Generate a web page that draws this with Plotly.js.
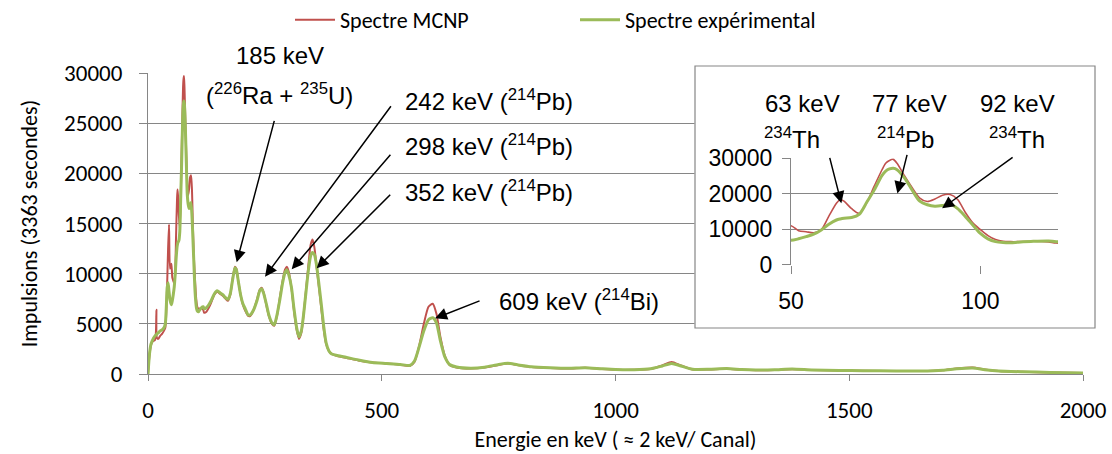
<!DOCTYPE html>
<html><head><meta charset="utf-8">
<script src="https://cdn.plot.ly/plotly-3.0.1.min.js"></script>
<style>html,body{margin:0;padding:0;background:#fff}#chart{width:1112px;height:454px}</style>
</head><body><div id="chart"></div>
<script>
// Energy (keV) and counts
const energyKeV = [0,3,6,9,12,15,17,18,19,22,26,30,34,37,39,41,43,45,47,
  50,52,54,56,58,60,62,63,64,66,68,70,72,74,75,76,77,78,80,82,84,86,88,90,92,94,96,98,100,102,104,106,108,110,114,118,120,
  125,130,135,142,148,154,160,166,171,176,181,186,189,193,198,203,208,214,219,226,233,239,243,247,253,259,265,270,276,282,288,293,297,301,307,312,318,323,328,333,338,343,348,352,356,361,366,371,376,381,387,393,
  405,425,450,480,510,540,560,570,580,590,600,609,617,625,635,645,660,690,720,750,770,790,820,860,900,935,970,1000,1040,1075,1100,1120,1140,1165,1200,1238,1270,1300,1340,1378,1420,1478,1530,1600,1653,1700,1730,1764,1790,1820,1870,1930,2000];

const spectreMCNP = [0,1800,2800,3200,3300,3400,4200,6400,3600,3500,3800,4000,4300,4600,6000,9000,12500,14900,10500,
  11000,9600,9300,9000,9900,13700,17300,18400,17900,15800,14500,17500,22200,26700,28600,29400,29700,28600,25000,21700,18800,17800,18500,19600,19800,18400,14800,11800,9900,8200,7100,6600,6500,6500,6600,6400,6100,
  6200,6600,7100,7900,8200,8000,7800,7500,7300,7900,9500,10700,10500,9300,7900,6900,6300,5800,5800,6400,7400,8400,8600,8200,6900,5700,5000,4800,5800,7600,9300,10400,10700,10200,8500,6400,4400,3500,4100,6000,8400,10800,12900,13400,12600,10500,8500,6400,4400,3000,2300,2000,
  1800,1600,1350,1150,1050,920,800,1200,2800,5000,6700,7000,6000,3800,1800,900,650,550,650,900,1050,900,700,600,550,620,500,420,420,500,850,1200,850,450,450,520,420,370,400,480,400,350,320,300,300,380,550,650,450,300,220,150,100];

const spectreExperimental = [0,1900,2900,3300,3600,3800,3900,3900,4000,4100,4300,4400,4600,5000,6500,8600,9100,8200,7400,
  6900,7300,7900,8600,9800,11400,12600,12900,13100,13300,14200,17600,21100,25100,26400,27000,27200,26800,24400,21000,17900,16900,16500,16700,17100,15800,13600,11200,8800,7300,6500,6250,6200,6350,6600,6700,6500,
  6600,6900,7300,8000,8300,8100,7900,7600,7450,8000,9400,10600,10400,9300,7900,7000,6500,5900,5900,6400,7300,8300,8500,8100,7000,5800,5100,4900,5900,7400,9100,10100,10400,9900,8600,6600,4600,3700,4300,6000,8200,10300,11800,12100,11900,10700,8800,6800,4700,3100,2300,2000,
  1850,1650,1400,1150,1050,950,850,1300,2700,4300,5400,5600,5100,3400,1700,950,700,580,680,950,1060,920,720,620,570,620,520,450,430,520,800,1050,800,470,470,540,440,390,420,500,410,360,330,300,300,380,520,600,430,300,220,160,100];

const seriesNames = ['Spectre MCNP', 'Spectre expérimental'];
const seriesColors = ['#C0504D', '#9BBB59'];
const xTickVals = [0, 500, 1000, 1500, 2000];
const yTickVals = [0, 5000, 10000, 15000, 20000, 25000, 30000];
const insetXTicks = [50, 100];
const insetYTicks = [0, 10000, 20000, 30000];

const calibri = 'Carlito, Lato, sans-serif';
const arial = '"Liberation Sans", Arial, sans-serif';
const grid = '#868686';

// pixel helpers for layout placement (plot area 148..1083 x, 73..374 y)
const L = 148, R = 1083, T = 73, B = 374;
const px = v => (v - L) / (R - L);
const py = v => (B - v) / (B - T);

const traces = [
  {x: energyKeV, y: spectreMCNP, name: seriesNames[0], type: 'scatter', mode: 'lines',
   line: {color: seriesColors[0], width: 2, shape: 'spline', smoothing: 0.6}, xaxis: 'x', yaxis: 'y'},
  {x: energyKeV, y: spectreExperimental, name: seriesNames[1], type: 'scatter', mode: 'lines',
   line: {color: seriesColors[1], width: 3, shape: 'spline', smoothing: 0.6}, xaxis: 'x', yaxis: 'y'},
  {x: energyKeV, y: spectreMCNP, name: seriesNames[0], type: 'scatter', mode: 'lines', showlegend: false,
   line: {color: seriesColors[0], width: 1.6, shape: 'spline', smoothing: 0.8}, xaxis: 'x2', yaxis: 'y2'},
  {x: energyKeV, y: spectreExperimental, name: seriesNames[1], type: 'scatter', mode: 'lines', showlegend: false,
   line: {color: seriesColors[1], width: 3, shape: 'spline', smoothing: 0.8}, xaxis: 'x2', yaxis: 'y2'}
];

const annFont = {family: arial, size: 24, color: '#000'};
function arrow(x, y, ax, ay, xr, yr) {
  return {x: x, y: y, xref: xr, yref: yr, ax: ax, ay: ay, axref: 'pixel', ayref: 'pixel',
    text: '', showarrow: true, arrowhead: 2, arrowsize: 1.6, arrowwidth: 1.5, arrowcolor: '#000', standoff: 0};
}
function label(text, xp, yp, anchor) {
  return {x: px(xp), y: py(yp), xref: 'paper', yref: 'paper', text: text, showarrow: false,
    xanchor: anchor || 'center', yanchor: 'middle', font: annFont};
}

const annotations = [
  label('185 keV', 280, 56),
  label('(<sup>226</sup>Ra + <sup>235</sup>U)', 279, 94),
  label('242 keV (<sup>214</sup>Pb)', 403, 100, 'left'),
  label('298 keV (<sup>214</sup>Pb)', 403, 145, 'left'),
  label('352 keV (<sup>214</sup>Pb)', 403, 191, 'left'),
  label('609 keV (<sup>214</sup>Bi)', 497, 300, 'left'),
  label('63 keV', 802, 103),
  label('<sup>234</sup>Th', 792, 138),
  label('77 keV', 909, 103),
  label('<sup>214</sup>Pb', 905, 138),
  label('92 keV', 1017, 103),
  label('<sup>234</sup>Th', 1017, 138),
  arrow(189.7, 11130, 38, -143, 'x', 'y'),
  arrow(250.3, 9700, 127, -172, 'x', 'y'),
  arrow(307.4, 10440, 100, -116, 'x', 'y'),
  arrow(360.9, 10540, 75, -75, 'x', 'y'),
  arrow(614, 5550, 46, -18, 'x', 'y'),
  arrow(63.3, 17300, -12, -47, 'x2', 'y2'),
  arrow(78.1, 20100, 10, -40, 'x2', 'y2'),
  arrow(89.9, 15900, 72, -52, 'x2', 'y2')
];

const layout = {
  width: 1112, height: 454,
  margin: {l: L, r: 1112 - R, t: T, b: 454 - B, pad: 0, autoexpand: false},
  paper_bgcolor: '#fff', plot_bgcolor: '#fff',
  font: {family: calibri, size: 23, color: '#000'},
  showlegend: true,
  legend: {orientation: 'h', x: px(290), y: py(-1), xanchor: 'left', yanchor: 'top',
    font: {family: calibri, size: 22, color: '#000'}, entrywidth: 230, entrywidthmode: 'pixels',
    bgcolor: 'rgba(0,0,0,0)', borderwidth: 0, itemwidth: 40},
  xaxis: {domain: [0, 1], range: [0, 2000], tickvals: xTickVals, ticks: 'outside', ticklen: 6,
    tickcolor: grid, tickwidth: 1, showline: true, linecolor: grid, linewidth: 1, showgrid: false,
    zeroline: false, tickfont: {family: calibri, size: 23}, ticklabelstandoff: 9,
    title: {text: 'Energie en keV ( ≈ 2 keV/ Canal)', font: {family: calibri, size: 22}, standoff: 9}},
  yaxis: {domain: [0, 1], range: [0, 30000], tickvals: yTickVals, tickformat: 'd', ticks: 'outside',
    ticklen: 8, tickcolor: grid, tickwidth: 1, showline: true, linecolor: grid, linewidth: 1,
    showgrid: true, gridcolor: grid, gridwidth: 1, zeroline: false,
    tickfont: {family: calibri, size: 23}, ticklabelstandoff: 12,
    title: {text: 'Impulsions (3363 secondes)', font: {family: calibri, size: 22}, standoff: 20}},
  xaxis2: {domain: [px(791), px(1058)], anchor: 'y2', range: [50, 120.5], tickvals: insetXTicks,
    ticks: 'outside', ticklen: 8, tickcolor: grid, showline: false, showgrid: false, zeroline: false,
    tickfont: {family: arial, size: 23}, ticklabelstandoff: 8},
  yaxis2: {domain: [py(264.7), py(158.3)], anchor: 'x2', range: [0, 30000], tickvals: insetYTicks,
    tickformat: 'd', ticks: 'outside', ticklen: 8, tickcolor: grid, showline: true, linecolor: grid,
    showgrid: true, gridcolor: grid, gridwidth: 1, zeroline: false,
    tickfont: {family: arial, size: 23}, ticklabelstandoff: 5},
  shapes: [
    {type: 'rect', xref: 'x', yref: 'y', layer: 'between', x0: 1169, x1: 2100, y0: 4590, y1: 32000,
     fillcolor: '#fff', line: {width: 0}},
    {type: 'rect', xref: 'paper', yref: 'paper', layer: 'above', x0: px(695), x1: px(1095), y0: py(328), y1: py(66),
     fillcolor: 'rgba(0,0,0,0)', line: {color: grid, width: 1.2}}
  ],
  annotations: annotations,
  hovermode: false
};

Plotly.newPlot('chart', traces, layout, {displayModeBar: false, staticPlot: true});
</script>
</body></html>
